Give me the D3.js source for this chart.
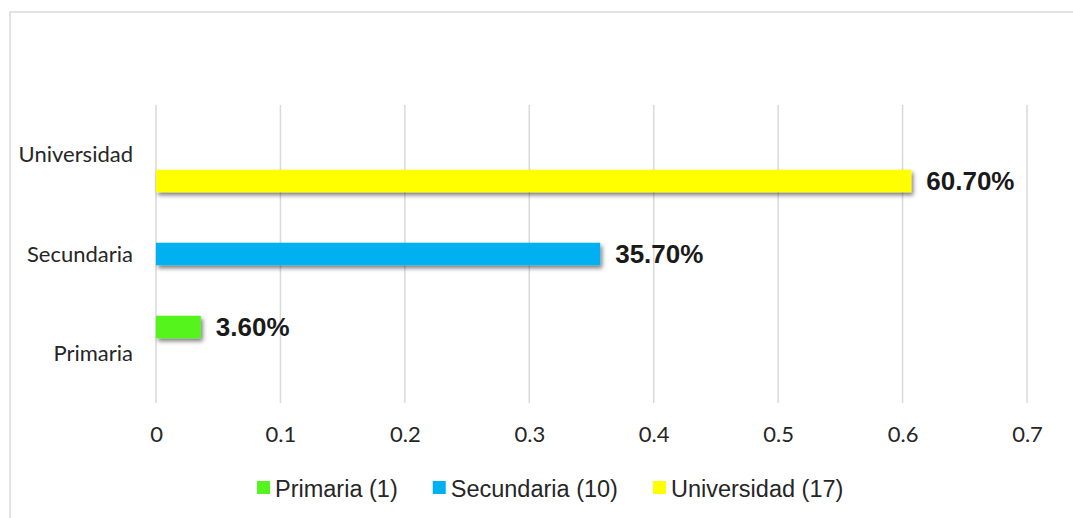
<!DOCTYPE html>
<html>
<head>
<meta charset="utf-8">
<script src="https://cdn.jsdelivr.net/npm/d3@7"></script>
<style>
  body { margin: 0; background: #fff; }
</style>
</head>
<body>
<div id="chart"></div>
<script>
// categories, top of the chart is last
var categories = ["Primaria", "Secundaria", "Universidad"];
var seriesNames = ["Primaria", "Secundaria", "Universidad"];
var seriesCounts = [1, 10, 17];
var seriesColors = ["#55F41F", "#00B0F0", "#FFFF00"];
// one value per category, for each series
var primariaValues = [0.036, 0, 0];
var secundariaValues = [0, 0.357, 0];
var universidadValues = [0, 0, 0.607];
var xTicks = [0, 0.1, 0.2, 0.3, 0.4, 0.5, 0.6, 0.7];

var WIDTH = 1073;
var HEIGHT = 518;

var seriesValues = [primariaValues, secundariaValues, universidadValues];

var svg = d3.select("#chart").append("svg")
  .attr("width", WIDTH)
  .attr("height", HEIGHT);

// shadow under the bars
var filter = svg.append("defs").append("filter")
  .attr("id", "shadow")
  .attr("x", "-10%").attr("y", "-30%")
  .attr("width", "130%").attr("height", "190%");
filter.append("feDropShadow")
  .attr("dx", 2)
  .attr("dy", 3)
  .attr("stdDeviation", 2.2)
  .attr("flood-color", "#000")
  .attr("flood-opacity", 0.5);

// outer chart border (runs off the page on right and bottom)
svg.append("rect")
  .attr("x", 10)
  .attr("y", 12)
  .attr("width", WIDTH + 20)
  .attr("height", HEIGHT + 20)
  .attr("fill", "none")
  .attr("stroke", "#d9d9d9")
  .attr("stroke-width", 1.5);

var x = d3.scaleLinear()
  .domain([0, 0.7])
  .range([156, 1027]);

var y = d3.scaleBand()
  .domain(categories.slice().reverse())
  .range([105, 403])
  .paddingInner(0.205)
  .paddingOuter(0.1025);

var ySeries = d3.scaleBand()
  .domain(seriesNames)
  .range([0, y.bandwidth()])
  .paddingInner(0.145)
  .paddingOuter(0.0725);

// gridlines
svg.append("g")
  .selectAll("line")
  .data(xTicks)
  .join("line")
    .attr("x1", d => x(d))
    .attr("x2", d => x(d))
    .attr("y1", 105)
    .attr("y2", 403)
    .attr("stroke", "#d9d9d9")
    .attr("stroke-width", 1.5);

// x axis labels
var xAxis = d3.axisBottom(x)
  .tickValues(xTicks)
  .tickFormat(d => d === 0 ? "0" : d3.format(".1f")(d))
  .tickSize(0)
  .tickPadding(0);

var xg = svg.append("g")
  .attr("transform", "translate(0,442)")
  .call(xAxis);
xg.select(".domain").remove();
xg.selectAll("text")
  .attr("dy", 0)
  .attr("y", 0)
  .style("font-family", "Lato, 'Open Sans', sans-serif")
  .style("font-size", "22px")
  .attr("fill", "#262626");

// y axis labels
var yAxis = d3.axisLeft(y).tickSize(0).tickPadding(0);
var yg = svg.append("g")
  .attr("transform", "translate(133,0)")
  .call(yAxis);
yg.select(".domain").remove();
yg.selectAll("text")
  .attr("dy", "0.35em")
  .style("font-family", "Lato, 'Open Sans', sans-serif")
  .style("font-size", "22px")
  .attr("fill", "#262626");

// bars
var barData = [];
seriesNames.forEach((s, si) => {
  categories.forEach((c, ci) => {
    barData.push({series: s, category: c, value: seriesValues[si][ci], color: seriesColors[si]});
  });
});

svg.append("g")
  .selectAll("rect")
  .data(barData.filter(d => d.value > 0))
  .join("rect")
    .attr("x", x(0))
    .attr("y", d => y(d.category) + ySeries(d.series))
    .attr("width", d => x(d.value) - x(0))
    .attr("height", ySeries.bandwidth())
    .attr("fill", d => d.color)
    .attr("filter", "url(#shadow)");

// value labels
svg.append("g")
  .selectAll("text")
  .data(barData.filter(d => d.value > 0))
  .join("text")
    .attr("x", d => x(d.value) + 15)
    .attr("y", d => y(d.category) + ySeries(d.series) + ySeries.bandwidth() / 2)
    .attr("dy", "0.36em")
    .style("font-family", "'Liberation Sans', Arial, sans-serif")
    .style("font-size", "26px")
    .style("font-weight", "bold")
    .attr("fill", "#1a1a1a")
    .text(d => d3.format(".2%")(d.value));

// legend
var legend = svg.append("g").attr("transform", "translate(257,488)");
var lx = 0;
seriesNames.forEach((s, i) => {
  var item = legend.append("g").attr("transform", "translate(" + lx + ",0)");
  item.append("rect")
    .attr("x", 0)
    .attr("y", -7)
    .attr("width", 13)
    .attr("height", 13)
    .attr("fill", seriesColors[i]);
  var t = item.append("text")
    .attr("x", 18)
    .attr("y", 8.5)
    .style("font-family", "'Liberation Sans', Arial, sans-serif")
    .style("font-size", "23.5px")
    .attr("fill", "#262626")
    .text(s + " (" + seriesCounts[i] + ")");
  lx += 18 + t.node().getComputedTextLength() + 35;
});
</script>
</body>
</html>
